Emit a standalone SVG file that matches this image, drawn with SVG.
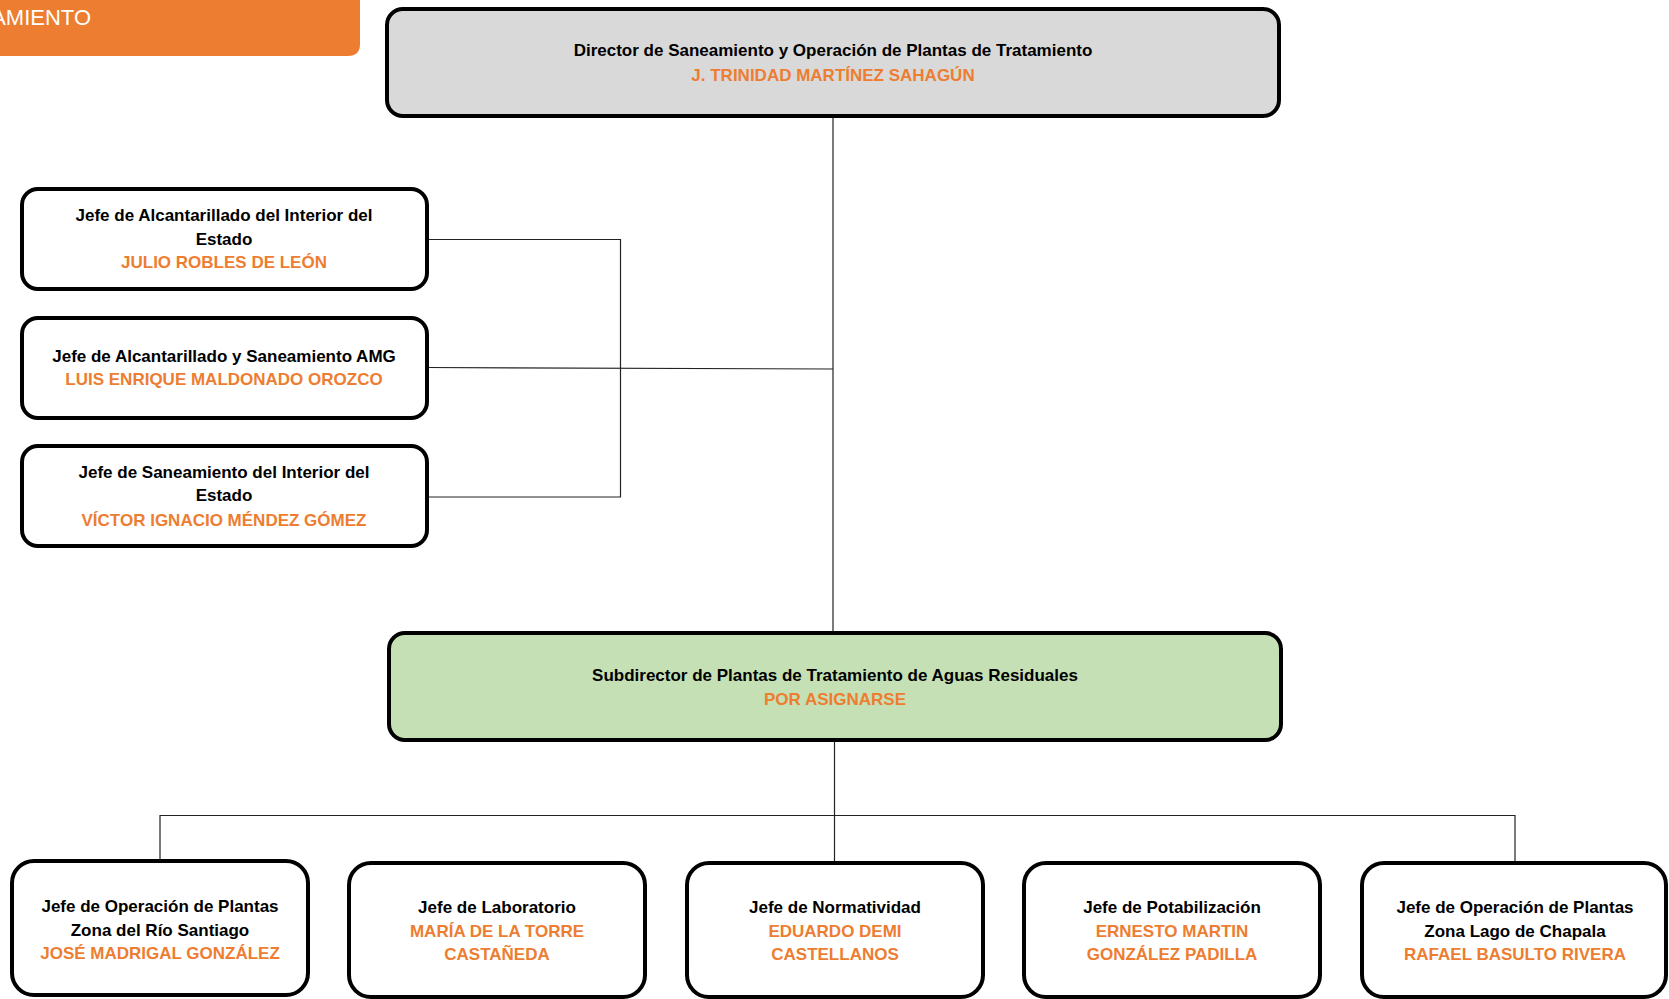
<svg xmlns="http://www.w3.org/2000/svg" width="1669" height="999" viewBox="0 0 1669 999">
<style>
.box{fill:#fff;stroke:#000;stroke-width:4}
.t{font-family:"Liberation Sans",Arial,sans-serif;font-weight:bold;font-size:17px;text-anchor:middle;fill:#000}
.n{fill:#ED7D31}
.c{fill:none;stroke:#222;stroke-width:1.2}
</style>
<rect width="1669" height="999" fill="#fff"/>
<g id="tab">
<path d="M-20 0 H360 V44 Q360 56 348 56 H-20 Z" fill="#ED7D31"/>
<text x="91" y="25" font-family="'Liberation Sans',Arial,sans-serif" font-size="22" fill="#fff" text-anchor="end">AMIENTO</text>
</g>
<g id="connectors">
<path class="c" d="M833 116 V632"/>
<path class="c" d="M427 239.5 H620.5 V497 H427"/>
<path class="c" d="M427 367.5 L833 369"/>
<path class="c" d="M834.5 741 V862"/>
<path class="c" d="M160 860 V815.5 H1515 V862"/>
</g>
<g id="director">
<rect class="box" x="387" y="9" width="892" height="107" rx="16" style="fill:#D9D9D9"/>
<text class="t" x="833" y="56">Director de Saneamiento y Operación de Plantas de Tratamiento</text>
<text class="t n" x="833" y="80.5">J. TRINIDAD MARTÍNEZ SAHAGÚN</text>
</g>
<g id="jefe-alc-interior">
<rect class="box" x="22" y="189" width="405" height="100" rx="16"/>
<text class="t" x="224" y="221">Jefe de Alcantarillado del Interior del</text>
<text class="t" x="224" y="244.5">Estado</text>
<text class="t n" x="224" y="268">JULIO ROBLES DE LEÓN</text>
</g>
<g id="jefe-alc-amg">
<rect class="box" x="22" y="318" width="405" height="100" rx="16"/>
<text class="t" x="224" y="361.5">Jefe de Alcantarillado y Saneamiento AMG</text>
<text class="t n" x="224" y="385">LUIS ENRIQUE MALDONADO OROZCO</text>
</g>
<g id="jefe-san-interior">
<rect class="box" x="22" y="446" width="405" height="100" rx="16"/>
<text class="t" x="224" y="477.5">Jefe de Saneamiento del Interior del</text>
<text class="t" x="224" y="501">Estado</text>
<text class="t n" x="224" y="525.5">VÍCTOR IGNACIO MÉNDEZ GÓMEZ</text>
</g>
<g id="subdirector">
<rect class="box" x="389" y="633" width="892" height="107" rx="16" style="fill:#C5E0B4"/>
<text class="t" x="835" y="681">Subdirector de Plantas de Tratamiento de Aguas Residuales</text>
<text class="t n" x="835" y="705">POR ASIGNARSE</text>
</g>
<g id="jefe-op-santiago">
<rect class="box" x="12" y="861" width="296" height="134" rx="22"/>
<text class="t" x="160" y="912">Jefe de Operación de Plantas</text>
<text class="t" x="160" y="935.5">Zona del Río Santiago</text>
<text class="t n" x="160" y="959">JOSÉ MADRIGAL GONZÁLEZ</text>
</g>
<g id="jefe-laboratorio">
<rect class="box" x="349" y="863" width="296" height="134" rx="22"/>
<text class="t" x="497" y="913">Jefe de Laboratorio</text>
<text class="t n" x="497" y="936.5">MARÍA DE LA TORRE</text>
<text class="t n" x="497" y="960">CASTAÑEDA</text>
</g>
<g id="jefe-normatividad">
<rect class="box" x="687" y="863" width="296" height="134" rx="22"/>
<text class="t" x="835" y="913">Jefe de Normatividad</text>
<text class="t n" x="835" y="936.5">EDUARDO DEMI</text>
<text class="t n" x="835" y="960">CASTELLANOS</text>
</g>
<g id="jefe-potabilizacion">
<rect class="box" x="1024" y="863" width="296" height="134" rx="22"/>
<text class="t" x="1172" y="913">Jefe de Potabilización</text>
<text class="t n" x="1172" y="936.5">ERNESTO MARTIN</text>
<text class="t n" x="1172" y="960">GONZÁLEZ PADILLA</text>
</g>
<g id="jefe-op-chapala">
<rect class="box" x="1362" y="863" width="304" height="134" rx="22"/>
<text class="t" x="1515" y="913">Jefe de Operación de Plantas</text>
<text class="t" x="1515" y="936.5">Zona Lago de Chapala</text>
<text class="t n" x="1515" y="960">RAFAEL BASULTO RIVERA</text>
</g>
</svg>
